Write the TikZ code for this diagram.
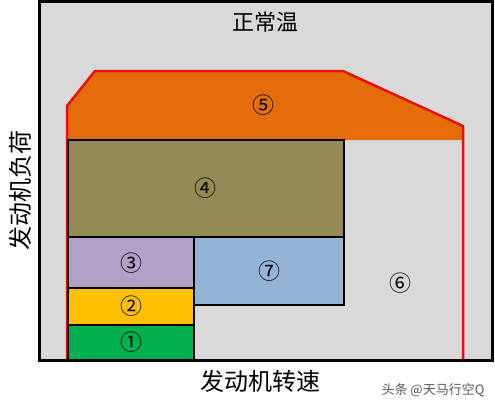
\documentclass[tikz,border=0pt]{standalone}
\usepackage{fontspec}
\usepackage{tikz}
\newfontfamily\cjk{Noto Sans CJK SC}
\definecolor{bggrey}{HTML}{D9D9D9}
\definecolor{zoneorange}{HTML}{E46C0A}
\definecolor{zoneolive}{HTML}{948A54}
\definecolor{zonepurple}{HTML}{B2A1C7}
\definecolor{zoneyellow}{HTML}{FFC000}
\definecolor{zonegreen}{HTML}{00B050}
\definecolor{zoneblue}{HTML}{95B3D7}
\definecolor{limitred}{HTML}{E8100C}
\tikzset{
  zone/.style={draw=black,line width=2pt},
  zonelabel/.style={font=\cjk\fontsize{22}{22}\selectfont,inner sep=0pt},
  axislabel/.style={font=\cjk\fontsize{24}{24}\selectfont,inner sep=0pt}
}

\begin{document}
\begin{tikzpicture}[scale=1.000000,x=1pt,y=-1pt]
\useasboundingbox (0.000000, 0.000000) rectangle (495.000000, 408.000000);
\fill[white] (0.000000, 0.000000) rectangle (495.000000, 408.000000);
% Drawing frame background
\fill[bggrey] (39.000000, 1.000000) rectangle (492.000000, 360.000000);
% Zone 5: orange band under the limit line
\fill[zoneorange] (67.000000, 140.000000) -- (67.000000, 106.000000) -- (95.000000, 71.000000)
  -- (343.000000, 71.000000) -- (463.000000, 126.000000) -- (463.000000, 140.000000) -- cycle;
% Limit line
\draw[limitred,line width=2.5pt,line join=round] (67.000000, 360.000000) -- (67.000000, 106.000000)
  -- (95.000000, 71.000000) -- (343.000000, 71.000000) -- (463.000000, 126.000000) -- (463.000000, 360.000000);
% Done with limit; drawing zones
\filldraw[zone,fill=zoneolive] (68.000000, 140.000000) rectangle (344.000000, 237.000000);
\filldraw[zone,fill=zoneblue] (194.000000, 237.000000) rectangle (344.000000, 305.000000);
\filldraw[zone,fill=zonepurple] (68.000000, 237.000000) rectangle (194.000000, 288.000000);
\filldraw[zone,fill=zoneyellow] (68.000000, 288.000000) rectangle (194.000000, 325.000000);
\filldraw[zone,fill=zonegreen] (68.000000, 325.000000) rectangle (194.000000, 360.000000);
% Frame border
\draw[black,line width=3pt] (39.000000, 1.000000) rectangle (492.000000, 360.000000);
% Zone labels
\node[zonelabel] (z5) at (263.000000, 105.000000) {⑤};
\node[zonelabel] (z4) at (205.000000, 188.000000) {④};
\node[zonelabel] (z3) at (131.000000, 263.000000) {③};
\node[zonelabel] (z2) at (131.000000, 306.000000) {②};
\node[zonelabel] (z1) at (131.000000, 342.000000) {①};
\node[zonelabel] (z7) at (269.000000, 271.000000) {⑦};
\node[zonelabel] (z6) at (400.000000, 283.000000) {⑥};
% Titles and axis labels
\node[font=\cjk\fontsize{22}{22}\selectfont,inner sep=0pt] (title) at (265.000000, 22.000000) {正常温};
\node[axislabel] (xlabel) at (260.000000, 381.000000) {发动机转速};
\node[axislabel,rotate=90] (ylabel) at (20.000000, 190.000000) {发动机负荷};
\node[font=\cjk\fontsize{13}{13}\selectfont,text=black!65,inner sep=0pt] (mark) at (433.000000, 390.000000) {头条 @天马行空Q};
\end{tikzpicture}
\end{document}
